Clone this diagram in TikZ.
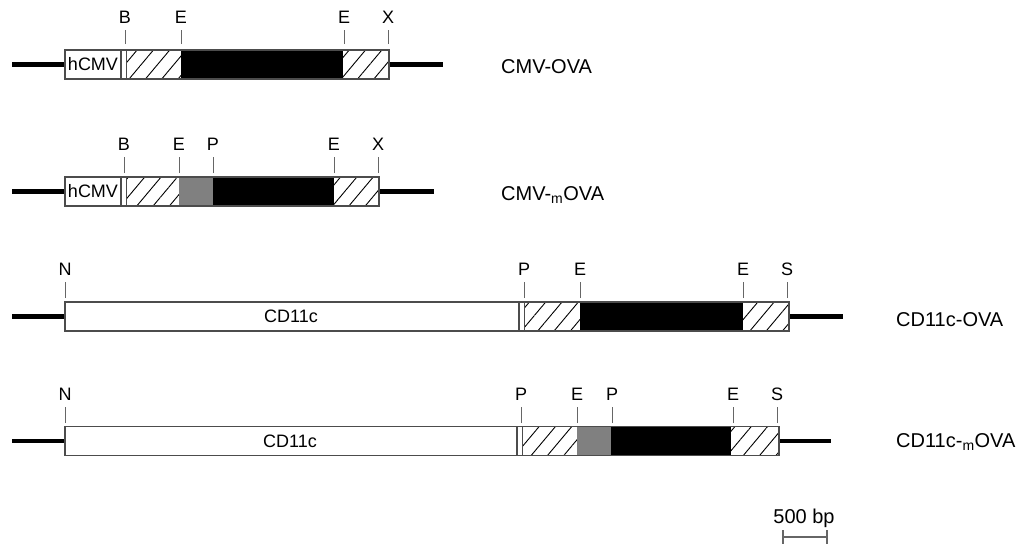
\documentclass[tikz,border=0pt]{standalone}
\usepackage{fontspec}
\setmainfont{Liberation Sans}
\usetikzlibrary{patterns.meta}
\definecolor{framegray}{rgb}{0.3,0.3,0.3}
\definecolor{sitegray}{rgb}{0.4,0.4,0.4}
\definecolor{mgray}{rgb}{0.5,0.5,0.5}

\begin{document}
\begin{tikzpicture}[x=1pt,y=-1pt,
	backbone/.style={line width=4.2pt},
	frame/.style={draw=framegray,line width=1.3pt},
	hatch/.style={pattern={Lines[angle=50,distance=12.5pt,line width=0.9pt]}},
	site/.style={sitegray,line width=1pt},
	sitelbl/.style={above=6pt,inner sep=0pt,black,font=\fontsize{18}{20}\selectfont},
	boxtext/.style={inner sep=0pt,font=\fontsize{18}{20}\selectfont},
	rowname/.style={anchor=base west,inner sep=0pt,font=\fontsize{20}{22}\selectfont}]
				\useasboundingbox (0,0) rectangle (1021,544);
				% CMV-OVA
				\draw[backbone] (12,64.5)--(65,64.5) (389,64.5)--(443,64.5);
				\path[hatch] (127,50) rectangle (181,79) (343,50) rectangle (389,79);
				\fill (181,50) rectangle (343,79);
				\draw[frame] (65,50) rectangle (389,79);
				\draw[frame,line width=2pt] (121,50)--(121,79);
				\draw[frame] (126.5,50)--(126.5,79);
				\node[boxtext] (hcmva) at (93,64.5) {hCMV};
				\foreach \x/\t [count=\i] in {125/B,181/E,344/E,388/X}
				\draw[site] (\x,44)--(\x,30) node[sitelbl] (sa\i) {\t};
				\node[rowname] (cmvova) at (501,73) {CMV-OVA};
				% CMV-mOVA
				\draw[backbone] (12,191.5)--(65,191.5) (379,191.5)--(434,191.5);
				\path[hatch] (127,177) rectangle (179,206) (334,177) rectangle (379,206);
				\fill[mgray] (179,177) rectangle (213,206);
				\fill (213,177) rectangle (334,206);
				\draw[frame] (65,177) rectangle (379,206);
				\draw[frame,line width=2pt] (121,177)--(121,206);
				\draw[frame] (126.5,177)--(126.5,206);
				\node[boxtext] (hcmvb) at (93,191.5) {hCMV};
				\foreach \x/\t [count=\i] in {124/B,179/E,213/P,334/E,378/X}
				\draw[site] (\x,173)--(\x,157) node[sitelbl] (sb\i) {\t};
				\node[rowname] (cmvmova) at (501,200) {CMV-\textsubscript{m}OVA};
				% CD11c-OVA
				\draw[backbone] (12,316.5)--(65,316.5) (789,316.5)--(843,316.5);
				\path[hatch] (525,302) rectangle (580,331) (743,302) rectangle (789,331);
				\fill (580,302) rectangle (743,331);
				\draw[frame] (65,302) rectangle (789,331);
				\draw[frame,line width=2pt] (519,302)--(519,331);
				\draw[frame] (524.5,302)--(524.5,331);
				\node[boxtext] (cdc) at (291,316.5) {CD11c};
				\foreach \x/\t [count=\i] in {65/N,524/P,580/E,743/E,787/S}
				\draw[site] (\x,298)--(\x,282) node[sitelbl] (sc\i) {\t};
				\node[rowname] (cdova) at (896,326) {CD11c-OVA};
				% CD11c-mOVA
				\draw[backbone] (12,441)--(65,441) (779,441)--(831,441);
				\path[hatch] (523,426.5) rectangle (577,455.5) (731,426.5) rectangle (779,455.5);
				\fill[mgray] (577,426.5) rectangle (611,455.5);
				\fill (611,426.5) rectangle (731,455.5);
				\draw[frame] (65,426.5) rectangle (779,455.5);
				\draw[frame,line width=2pt] (517,426.5)--(517,455.5);
				\draw[frame] (522.5,426.5)--(522.5,455.5);
				\node[boxtext] (cdd) at (290,441) {CD11c};
				\foreach \x/\t [count=\i] in {65/N,521/P,577/E,612/P,733/E,777/S}
				\draw[site] (\x,423)--(\x,407) node[sitelbl] (sd\i) {\t};
				\node[rowname] (cdmova) at (896,447) {CD11c-\textsubscript{m}OVA};
				% 500 bp
				\node[anchor=base,inner sep=0pt,font=\fontsize{20}{22}\selectfont] (bp) at (804,523) {500 bp};
				\draw[sitegray,line width=1.6pt] (783,530)--(783,544) (783,537)--(827,537) (827,530)--(827,544);
			\end{tikzpicture}
\end{document}
